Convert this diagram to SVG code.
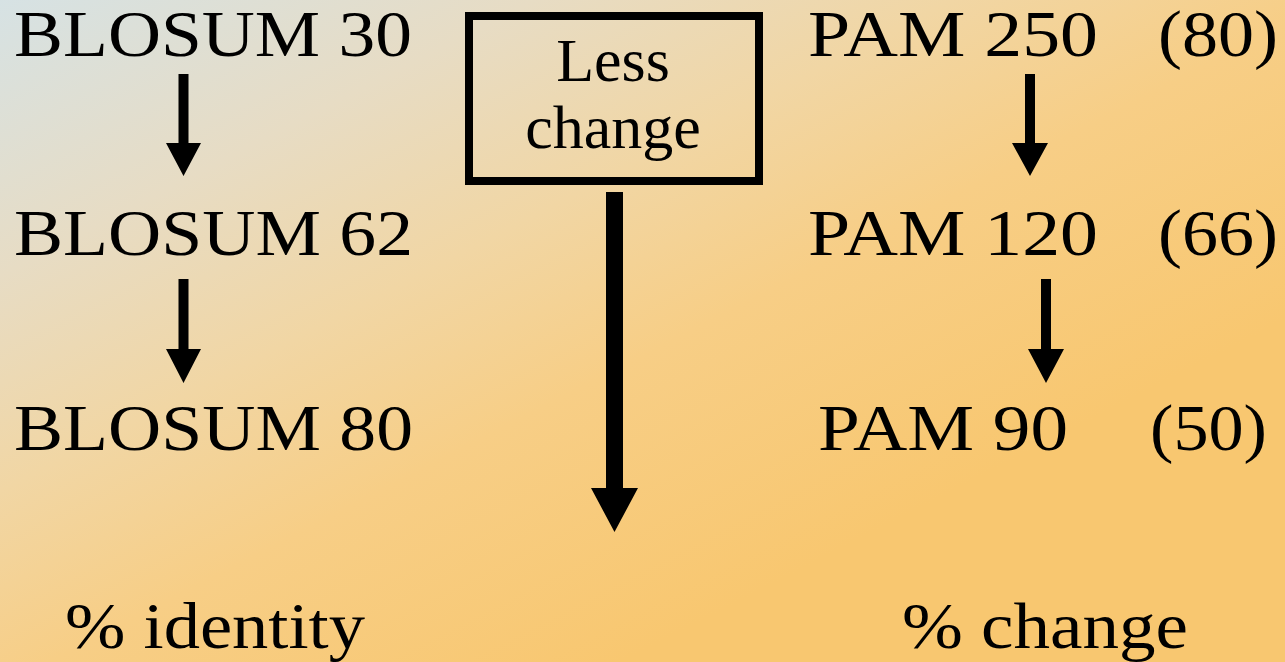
<svg xmlns="http://www.w3.org/2000/svg" width="1285" height="662" viewBox="0 0 1285 662">
  <defs>
    <linearGradient id="bg" gradientUnits="userSpaceOnUse" x1="0" y1="0" x2="400" y2="776">
      <stop offset="0" stop-color="#d6e2e4"/>
      <stop offset="0.28" stop-color="#e7dcc4"/>
      <stop offset="0.5" stop-color="#f1d6a4"/>
      <stop offset="0.7" stop-color="#f7ce86"/>
      <stop offset="1" stop-color="#f8c770"/>
    </linearGradient>
    <style>
      .t { font-family: "Liberation Serif", "Times New Roman", serif; font-size: 65px; fill: #000; }
      .b { font-family: "Liberation Serif", "Times New Roman", serif; font-size: 62px; fill: #000; }
      .arrow { fill: #000; }
    </style>
  </defs>
  <rect x="0" y="0" width="1285" height="662" fill="url(#bg)"/>

  <g id="blosum30"><text class="t" x="14" y="56" textLength="398" lengthAdjust="spacingAndGlyphs">BLOSUM 30</text></g>
  <g id="blosum62"><text class="t" x="14" y="255" textLength="399" lengthAdjust="spacingAndGlyphs">BLOSUM 62</text></g>
  <g id="blosum80"><text class="t" x="14" y="450" textLength="399" lengthAdjust="spacingAndGlyphs">BLOSUM 80</text></g>

  <g id="pam250">
    <text class="t" x="808" y="56" textLength="290" lengthAdjust="spacingAndGlyphs">PAM 250</text>
    <text class="t" x="1158" y="56" textLength="120" lengthAdjust="spacingAndGlyphs">(80)</text>
  </g>
  <g id="pam120">
    <text class="t" x="808" y="255" textLength="290" lengthAdjust="spacingAndGlyphs">PAM 120</text>
    <text class="t" x="1158" y="255" textLength="120" lengthAdjust="spacingAndGlyphs">(66)</text>
  </g>
  <g id="pam90">
    <text class="t" x="818" y="450" textLength="250" lengthAdjust="spacingAndGlyphs">PAM 90</text>
    <text class="t" x="1150" y="450" textLength="117" lengthAdjust="spacingAndGlyphs">(50)</text>
  </g>

  <g id="less-change">
    <rect x="469" y="16" width="290" height="165" fill="none" stroke="#000" stroke-width="8"/>
    <text class="b" x="613" y="81" text-anchor="middle">Less</text>
    <text class="b" x="613" y="148" text-anchor="middle">change</text>
  </g>

  <g id="identity-label"><text class="t" x="65" y="648" textLength="300" lengthAdjust="spacingAndGlyphs">% identity</text></g>
  <g id="change-label"><text class="t" x="902" y="648" textLength="286" lengthAdjust="spacingAndGlyphs">% change</text></g>

  <g id="connectors" class="arrow">
    <polygon points="178.5,74 188.5,74 188.5,143 201,143 183.5,176 166,143 178.5,143"/>
    <polygon points="178.5,279 188.5,279 188.5,349 201,349 183.5,383 166,349 178.5,349"/>
    <polygon points="1025,74 1035,74 1035,143 1048,143 1030,176 1012,143 1025,143"/>
    <polygon points="1041,279 1051,279 1051,349 1064,349 1046,383 1028,349 1041,349"/>
    <polygon points="606,192 623,192 623,488 638,488 614.5,532 591,488 606,488"/>
  </g>
</svg>
